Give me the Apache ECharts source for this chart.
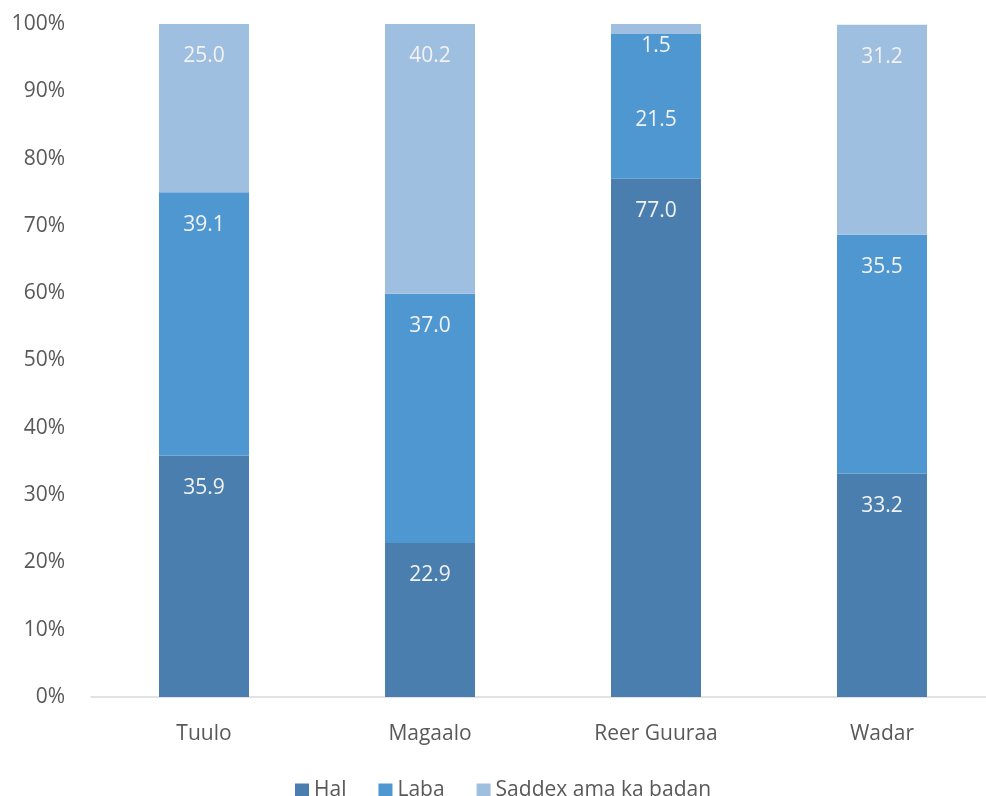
<!DOCTYPE html>
<html>
<head>
<meta charset="utf-8">
<script src="https://cdn.jsdelivr.net/npm/echarts@6/dist/echarts.min.js"></script>
<style>
  html, body { margin: 0; padding: 0; background: #fff; overflow: hidden; }
  #chart { width: 1000px; height: 796px; }
</style>
</head>
<body>
<div id="chart"></div>
<script>
// Household share by number of members, per settlement type (percent)
const categories = ['Tuulo', 'Magaalo', 'Reer Guuraa', 'Wadar'];
const seriesNames = ['Hal', 'Laba', 'Saddex ama ka badan'];
const halValues = [35.9, 22.9, 77.0, 33.2];
const labaValues = [39.1, 37.0, 21.5, 35.5];
const saddexValues = [25.0, 40.2, 1.5, 31.2];
const yTicks = [0, 10, 20, 30, 40, 50, 60, 70, 80, 90, 100];

const colors = ['#4a7eae', '#4f97d1', '#9fbfe1'];
const FONT = 'Open Sans';
const FS = 21;

// Label distance from the top of a segment; the thin top segment of
// Reer Guuraa pushes its neighbour's label further down.
const labelDistance = {
  'Saddex ama ka badan|Reer Guuraa': 12,
  'Laba|Reer Guuraa': 75
};

function makeSeries(name, values, color) {
  return {
    name: name,
    type: 'bar',
    stack: 'total',
    barWidth: 90,
    itemStyle: { color: color },
    label: {
      show: true,
      position: 'insideTop',
      distance: 22,
      color: '#f2f2f2',
      fontFamily: FONT,
      fontSize: FS,
      formatter: p => p.value.toFixed(1)
    },
    data: values.map((v, i) => {
      const d = labelDistance[name + '|' + categories[i]];
      return d !== undefined ? { value: v, label: { distance: d } } : v;
    })
  };
}

const chart = echarts.init(document.getElementById('chart'));
chart.setOption({
  animation: false,
  color: colors,
  textStyle: { fontFamily: FONT },
  grid: { left: 91, top: 24, width: 904, height: 673, containLabel: false },
  legend: {
    top: 775,
    left: 290,
    itemWidth: 14,
    itemHeight: 14,
    itemGap: 32,
    icon: 'rect',
    textStyle: { color: '#595959', fontSize: FS, fontFamily: FONT },
    data: seriesNames
  },
  xAxis: {
    type: 'category',
    data: categories,
    axisLine: { lineStyle: { color: '#d9d9d9', width: 1.5 } },
    axisTick: { show: false },
    axisLabel: { color: '#595959', fontSize: FS, margin: 27, fontFamily: FONT }
  },
  yAxis: {
    type: 'value',
    min: yTicks[0],
    max: yTicks[yTicks.length - 1],
    interval: 10,
    splitLine: { show: false },
    axisLine: { show: false },
    axisTick: { show: false },
    axisLabel: { color: '#595959', fontSize: FS, margin: 26, fontFamily: FONT, formatter: '{value}%' }
  },
  series: [
    makeSeries(seriesNames[0], halValues, colors[0]),
    makeSeries(seriesNames[1], labaValues, colors[1]),
    makeSeries(seriesNames[2], saddexValues, colors[2])
  ]
});
</script>
</body>
</html>
